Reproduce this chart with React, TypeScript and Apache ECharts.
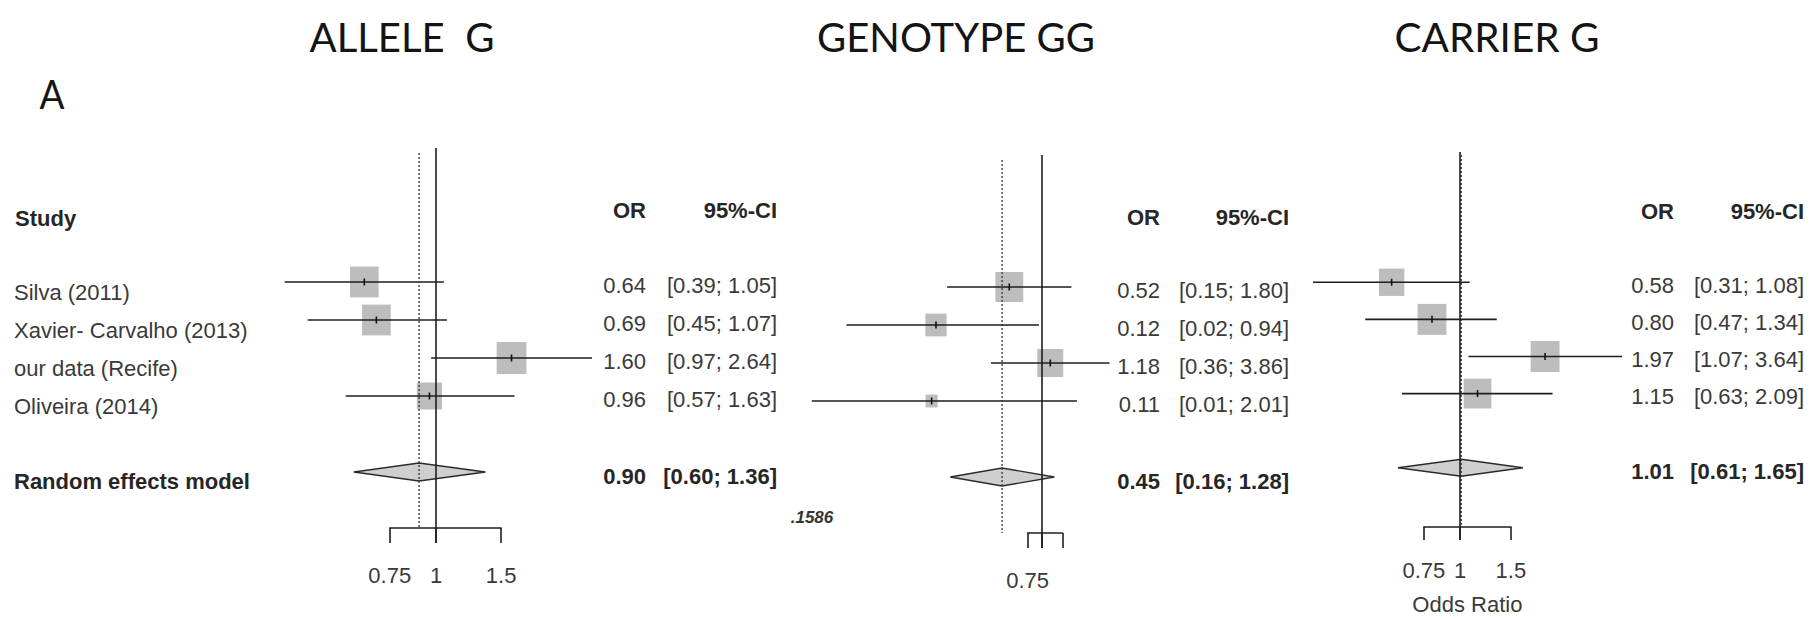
import React, { useEffect, useRef } from "react";
import * as echarts from "echarts";

// ---------------- data ----------------
const titles = ["ALLELE  G", "GENOTYPE GG", "CARRIER G"];
const panelLetter = "A";
const studies = ["Silva (2011)", "Xavier- Carvalho (2013)", "our data (Recife)", "Oliveira (2014)"];
const summaryLabel = "Random effects model";
const headerStudy = "Study";
const headerOR = "OR";
const headerCI = "95%-CI";
const xAxisName = "Odds Ratio";
const strayNote = ".1586";

const alleleOR = [0.64, 0.69, 1.6, 0.96];
const alleleLow = [0.39, 0.45, 0.97, 0.57];
const alleleHigh = [1.05, 1.07, 2.64, 1.63];
const alleleWeight = [26, 26, 28, 20];
const alleleSummary = [0.9, 0.6, 1.36];

const genotypeOR = [0.52, 0.12, 1.18, 0.11];
const genotypeLow = [0.15, 0.02, 0.36, 0.01];
const genotypeHigh = [1.8, 0.94, 3.86, 2.01];
const genotypeWeight = [38, 22, 33, 7];
const genotypeSummary = [0.45, 0.16, 1.28];

const carrierOR = [0.58, 0.8, 1.97, 1.15];
const carrierLow = [0.31, 0.47, 1.07, 0.63];
const carrierHigh = [1.08, 1.34, 3.64, 2.09];
const carrierWeight = [21, 27, 27, 25];
const carrierSummary = [1.01, 0.61, 1.65];

const referenceOR = 1;
const axisTickValues = [0.75, 1, 1.5];
const alleleTickLabels = [0.75, 1, 1.5];
const genotypeTickLabels = [0.75];
const carrierTickLabels = [0.75, 1, 1.5];

// ---------------- layout (pixels) ----------------
const layout = [
  { x1: 436, k: 160.7, top: 148, axisY: 528, row0: 282, row5: 472, orRight: 646, ciRight: 777, headerY: 210, base: 32, refExtra: 15, dotTop: 5, dotBottom: -1, labelGap: 47, tickLen: 15, titleX: 402, titleW: 185, diamondH: 9 },
  { x1: 1042, k: 50, top: 155, axisY: 533, row0: 287, row5: 477, orRight: 1160, ciRight: 1289, headerY: 217, base: 30, refExtra: 15, dotTop: 5, dotBottom: 0, labelGap: 47, tickLen: 15, titleX: 956, titleW: 278, diamondH: 9 },
  { x1: 1460, k: 125.5, top: 152, axisY: 532, row0: 284, row5: 472, orRight: 1674, ciRight: 1804, headerY: 211, base: 31, refExtra: 13, dotTop: 3, dotBottom: 0, labelGap: 43, tickLen: 13, titleX: 1497, titleW: 205, diamondH: 8.5 },
];

const FONT = '"Liberation Sans", Arial, sans-serif';
const TEXT = "#3a3a3a";
const BOLD = "#262626";
const LINE = "#1e1e1e";

function measure(text: string, font: string): number {
  const c = document.createElement("canvas").getContext("2d");
  if (!c) return 0;
  c.font = font;
  return c.measureText(text).width;
}

const fmt2 = (v: number) => v.toFixed(2);
const ciText = (lo: number, hi: number) => `[${lo.toFixed(2)}; ${hi.toFixed(2)}]`;

function txt(s: string, x: number, y: number, align: string, font: string, fill: string) {
  return {
    type: "text",
    style: { text: s, x, y, align, textAlign: align, verticalAlign: "middle", textVerticalAlign: "middle", font, fill },
  };
}

function buildOption() {
  const panels = [
    { or: alleleOR, lo: alleleLow, hi: alleleHigh, w: alleleWeight, sum: alleleSummary, ticks: alleleTickLabels },
    { or: genotypeOR, lo: genotypeLow, hi: genotypeHigh, w: genotypeWeight, sum: genotypeSummary, ticks: genotypeTickLabels },
    { or: carrierOR, lo: carrierLow, hi: carrierHigh, w: carrierWeight, sum: carrierSummary, ticks: carrierTickLabels },
  ];
  const lnMin = Math.log(Math.min(...axisTickValues));
  const lnMax = Math.log(Math.max(...axisTickValues));
  const summaryRow = studies.length + 1;
  const reg = `22px ${FONT}`;
  const bold = `bold 22px ${FONT}`;

  const grid: any[] = [];
  const xAxis: any[] = [];
  const yAxis: any[] = [];
  const series: any[] = [];

  panels.forEach((P, p) => {
    const L = layout[p];
    grid.push({ left: L.x1 + L.k * lnMin, width: L.k * (lnMax - lnMin), top: L.top, height: L.axisY - L.top });
    xAxis.push({
      gridIndex: p,
      type: "value",
      min: lnMin,
      max: lnMax,
      axisLine: { show: true, onZero: false, lineStyle: { color: LINE, width: 1.6 } },
      axisTick: { show: true, customValues: axisTickValues.map((v) => Math.log(v)), length: L.tickLen, inside: false, lineStyle: { color: LINE, width: 1.6 } },
      axisLabel: {
        show: true,
        customValues: P.ticks.map((v) => Math.log(v)),
        formatter: (v: number) => String(Number(Math.exp(v).toFixed(2))),
        margin: L.labelGap,
        verticalAlign: "middle",
        fontSize: 22,
        fontFamily: FONT,
        color: TEXT,
        hideOverlap: false,
      },
      splitLine: { show: false },
      name: p === 2 ? xAxisName : "",
      nameLocation: "middle",
      nameGap: 77,
      nameTextStyle: { fontSize: 22, fontFamily: FONT, color: TEXT, verticalAlign: "middle" },
    });
    const s = (L.row5 - L.row0) / summaryRow;
    yAxis.push({ gridIndex: p, type: "value", inverse: true, min: (L.top - L.row0) / s, max: (L.axisY - L.row0) / s, show: false });

    const maxW = Math.max(...P.w);
    series.push({
      type: "custom",
      xAxisIndex: p,
      yAxisIndex: p,
      clip: false,
      silent: true,
      data: P.or.map((v, i) => [Math.log(P.lo[i]), Math.log(P.hi[i]), Math.log(v), i, P.w[i]]),
      renderItem: (params: any, api: any) => {
        const i = params.dataIndex;
        const row = api.value(3);
        const a = api.coord([api.value(0), row]);
        const b = api.coord([api.value(1), row]);
        const m = api.coord([api.value(2), row]);
        const h = L.base * Math.sqrt(api.value(4) / maxW);
        const w = h * 0.93;
        const children: any[] = [
          { type: "rect", shape: { x: m[0] - w / 2, y: m[1] - h / 2, width: w, height: h }, style: { fill: "#bdbdbd" } },
          { type: "line", shape: { x1: a[0], y1: a[1], x2: b[0], y2: b[1] }, style: { stroke: LINE, lineWidth: 1.6 } },
          { type: "line", shape: { x1: m[0], y1: m[1] - 3.5, x2: m[0], y2: m[1] + 3.5 }, style: { stroke: "#111", lineWidth: 1.6 } },
          txt(fmt2(P.or[i]), L.orRight, m[1] + 3, "right", reg, TEXT),
          txt(ciText(P.lo[i], P.hi[i]), L.ciRight, m[1] + 3, "right", reg, TEXT),
        ];
        if (p === 0) children.push(txt(studies[i], 14, m[1] + 10, "left", reg, TEXT));
        return { type: "group", children };
      },
    });
    series.push({
      type: "custom",
      xAxisIndex: p,
      yAxisIndex: p,
      clip: false,
      silent: true,
      data: [[Math.log(P.sum[1]), Math.log(P.sum[2]), Math.log(P.sum[0]), summaryRow]],
      renderItem: (params: any, api: any) => {
        const row = api.value(3);
        const a = api.coord([api.value(0), row]);
        const b = api.coord([api.value(1), row]);
        const m = api.coord([api.value(2), row]);
        const hh = L.diamondH;
        const children: any[] = [
          {
            type: "polygon",
            shape: { points: [[a[0], m[1]], [m[0], m[1] - hh], [b[0], m[1]], [m[0], m[1] + hh]] },
            style: { fill: "#cfcfcf", stroke: "#2a2a2a", lineWidth: 1.4 },
          },
          txt(fmt2(P.sum[0]), L.orRight, m[1] + 4, "right", bold, BOLD),
          txt(ciText(P.sum[1], P.sum[2]), L.ciRight, m[1] + 4, "right", bold, BOLD),
        ];
        if (p === 0) children.push(txt(summaryLabel, 14, m[1] + 9, "left", bold, BOLD));
        return { type: "group", children };
      },
    });
    series.push({
      type: "custom",
      xAxisIndex: p,
      yAxisIndex: p,
      clip: false,
      silent: true,
      z: 5,
      data: [[Math.log(referenceOR), Math.log(P.sum[0])]],
      renderItem: (params: any, api: any) => {
        const cs = params.coordSys;
        const xr = api.coord([api.value(0), 0])[0];
        const xd = api.coord([api.value(1), 0])[0];
        return {
          type: "group",
          children: [
            { type: "line", shape: { x1: xd, y1: cs.y + L.dotTop, x2: xd, y2: cs.y + cs.height + L.dotBottom }, style: { stroke: "#333", lineWidth: 1.3, lineDash: [2, 2] } },
            { type: "line", shape: { x1: xr, y1: cs.y, x2: xr, y2: cs.y + cs.height + L.refExtra }, style: { stroke: LINE, lineWidth: 1.6 } },
          ],
        };
      },
    });
  });

  const titleFont = "40px Lato, 'Open Sans', sans-serif";
  const graphic: any[] = [];
  titles.forEach((t, p) => {
    const L = layout[p];
    const mw = measure(t, titleFont);
    const sc = mw > 0 ? L.titleW / mw : 1;
    graphic.push({ type: "text", x: L.titleX, y: 37, scaleX: sc, style: { text: t, align: "center", textAlign: "center", verticalAlign: "middle", textVerticalAlign: "middle", font: titleFont, fill: "#141414" } });
  });
  {
    const mw = measure(panelLetter, titleFont);
    const sc = mw > 0 ? 25 / mw : 1;
    graphic.push({ type: "text", x: 52, y: 93, scaleX: sc, style: { text: panelLetter, align: "center", textAlign: "center", verticalAlign: "middle", textVerticalAlign: "middle", font: titleFont, fill: "#141414" } });
  }
  graphic.push({ type: "text", style: { text: headerStudy, x: 15, y: 218, align: "left", textAlign: "left", verticalAlign: "middle", textVerticalAlign: "middle", font: bold, fill: BOLD } });
  layout.forEach((L) => {
    graphic.push({ type: "text", style: { text: headerOR, x: L.orRight, y: L.headerY, align: "right", textAlign: "right", verticalAlign: "middle", textVerticalAlign: "middle", font: bold, fill: BOLD } });
    graphic.push({ type: "text", style: { text: headerCI, x: L.ciRight, y: L.headerY, align: "right", textAlign: "right", verticalAlign: "middle", textVerticalAlign: "middle", font: bold, fill: BOLD } });
  });
  graphic.push({ type: "text", style: { text: strayNote, x: 812, y: 517, align: "center", textAlign: "center", verticalAlign: "middle", textVerticalAlign: "middle", font: `italic bold 17px ${FONT}`, fill: "#333" } });

  return { animation: false, backgroundColor: "#ffffff", grid, xAxis, yAxis, series, graphic };
}

export default function App() {
  const ref = useRef<HTMLDivElement>(null);
  useEffect(() => {
    if (!ref.current) return;
    const chart = echarts.init(ref.current, null, { renderer: "svg" });
    chart.setOption(buildOption() as any);
    return () => chart.dispose();
  }, []);
  return <div ref={ref} style={{ position: "fixed", left: 0, top: 0, width: 1811, height: 620, background: "#fff" }} />;
}
